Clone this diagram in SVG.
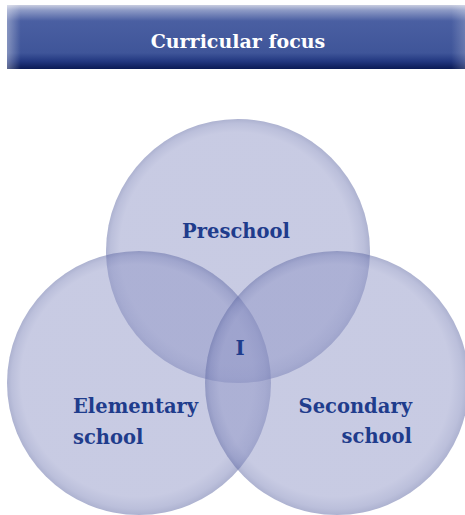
<svg xmlns="http://www.w3.org/2000/svg" width="465" height="515" viewBox="0 0 465 515">
<defs>
<linearGradient id="bar" x1="0" y1="0" x2="0" y2="1">
<stop offset="0" stop-color="#c9cde0"/>
<stop offset="0.08" stop-color="#8e9bc6"/>
<stop offset="0.25" stop-color="#4a5fa2"/>
<stop offset="0.75" stop-color="#3f5599"/>
<stop offset="0.88" stop-color="#223780"/>
<stop offset="1" stop-color="#0a1a55"/>
</linearGradient>
<linearGradient id="barSide" x1="0" y1="0" x2="1" y2="0">
<stop offset="0" stop-color="#ffffff" stop-opacity="0.35"/>
<stop offset="0.03" stop-color="#ffffff" stop-opacity="0"/>
<stop offset="0.97" stop-color="#ffffff" stop-opacity="0"/>
<stop offset="1" stop-color="#ffffff" stop-opacity="0.2"/>
</linearGradient>
<radialGradient id="disc" cx="0.5" cy="0.5" r="0.5" fx="0.44" fy="0.42">
<stop offset="0" stop-color="rgb(145,151,199)"/>
<stop offset="0.88" stop-color="rgb(145,151,199)"/>
<stop offset="0.96" stop-color="rgb(120,128,183)"/>
<stop offset="1" stop-color="rgb(92,102,162)"/>
</radialGradient>
<linearGradient id="hl" x1="0" y1="0" x2="1" y2="1">
<stop offset="0" stop-color="#ffffff" stop-opacity="0.25"/>
<stop offset="0.3" stop-color="#ffffff" stop-opacity="0"/>
</linearGradient>
</defs>
<style>
.c{fill:url(#disc);fill-opacity:0.5}
.h{fill:url(#hl)}
.t{font-family:"DejaVu Serif","Liberation Serif",serif;font-weight:bold;font-size:19.5px;fill:#1f3c8c}
.title{font-family:"DejaVu Serif","Liberation Serif",serif;font-weight:bold;font-size:19px;fill:#ffffff}
</style>
<g id="header">
<rect x="7" y="5" width="458" height="64" fill="url(#bar)"/>
<rect x="7" y="5" width="458" height="64" fill="url(#barSide)"/>
<text class="title" x="238" y="48" text-anchor="middle">Curricular focus</text>
</g>
<g id="preschool">
<circle class="c" cx="238" cy="251" r="132"/>
<text class="t" x="236" y="238" text-anchor="middle">Preschool</text>
</g>
<g id="elementary">
<circle class="c" cx="139" cy="383" r="132"/>
<text class="t" x="73" y="413">Elementary</text>
<text class="t" x="73" y="444">school</text>
</g>
<g id="secondary">
<circle class="c" cx="337" cy="383" r="132"/>
<text class="t" x="412" y="413" text-anchor="end">Secondary</text>
<text class="t" x="412" y="443" text-anchor="end">school</text>
</g>
<g id="intersection">
<text class="t" x="240" y="355" text-anchor="middle">I</text>
</g>
<g id="connectors"/>
</svg>
